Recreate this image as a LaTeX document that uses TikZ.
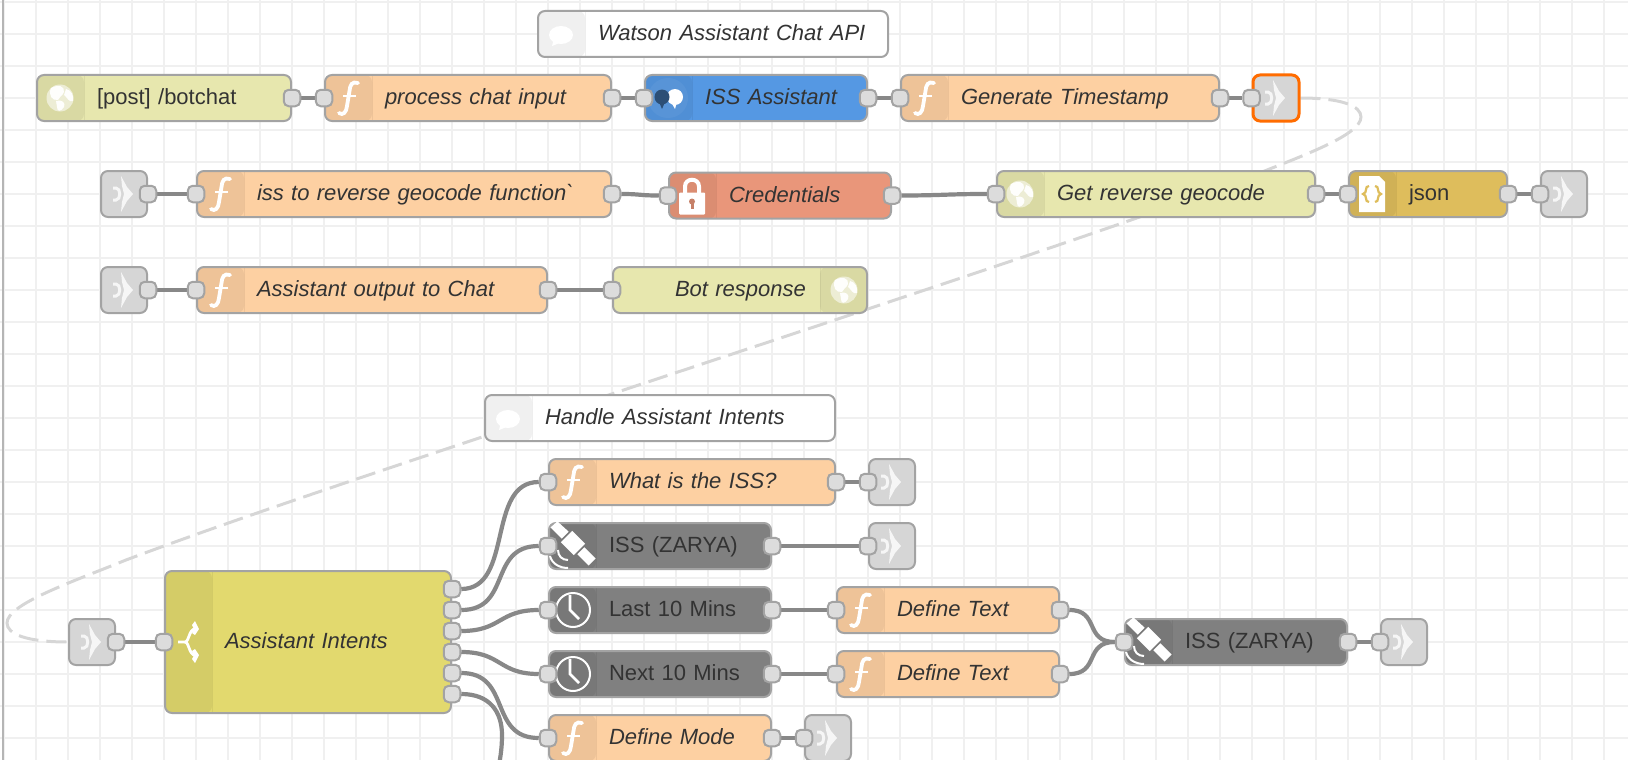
\documentclass[tikz,border=0pt]{standalone}
\usepackage{fontspec}
\setmainfont{Liberation Sans}
\usetikzlibrary{backgrounds}
\definecolor{edgecol}{HTML}{A3A3A3}
\definecolor{inkcol}{HTML}{333333}
\definecolor{gridcol}{HTML}{F0F0F0}
\definecolor{wirecol}{HTML}{888888}
\definecolor{portcol}{HTML}{DCDCDC}
\definecolor{fncol}{HTML}{FDD0A2}
\definecolor{httpcol}{HTML}{E7E7AE}
\definecolor{watsoncol}{HTML}{5598E3}
\definecolor{credcol}{HTML}{E9967A}
\definecolor{jsoncol}{HTML}{DEBD5C}
\definecolor{linkcol}{HTML}{D6D6D6}
\definecolor{satcol}{HTML}{808080}
\definecolor{switchcol}{HTML}{E2D96E}
\tikzset{
flownode/.style={draw=edgecol,line width=2pt,rounded corners=7pt,minimum height=46pt,inner xsep=0pt,inner ysep=0pt,align=left,text=inkcol,font=\fontsize{22}{26}\selectfont\itshape,text height=17pt,text depth=4pt},
wide/.style={minimum width=#1pt,text width=#1pt},
upright/.style={font=\fontsize{22}{26}\selectfont},
bandleft/.style={execute at begin node={\hspace*{60pt}},path picture={\fill[black,opacity=.06] (path picture bounding box.north west) rectangle ([xshift=47pt]path picture bounding box.south west);\draw[black,opacity=.06,line width=1pt] ([xshift=47pt]path picture bounding box.north west) -- ([xshift=47pt]path picture bounding box.south west);}},
bandright/.style={execute at begin node={\hspace*{62pt}},path picture={\fill[black,opacity=.06] (path picture bounding box.north east) rectangle ([xshift=-47pt]path picture bounding box.south east);\draw[black,opacity=.06,line width=1pt] ([xshift=-47pt]path picture bounding box.north east) -- ([xshift=-47pt]path picture bounding box.south east);}},
fnbox/.style={flownode,bandleft,fill=fncol},
httpbox/.style={flownode,bandleft,fill=httpcol},
satbox/.style={flownode,bandleft,fill=satcol,upright},
notebox/.style={flownode,bandleft,fill=white},
linkbox/.style={draw=edgecol,line width=2pt,rounded corners=7pt,minimum width=46pt,minimum height=46pt,inner sep=0pt,fill=linkcol},
port/.style={draw=edgecol,line width=2pt,rounded corners=5pt,minimum width=16.5pt,minimum height=16.5pt,inner sep=0pt,fill=portcol},
wire/.style={draw=wirecol,line width=4.2pt},
dashwire/.style={draw=linkcol,line width=3pt,dash pattern=on 20pt off 8pt},
gridline/.style={draw=gridcol,line width=2pt},
fnicon/.pic={\draw[white,line width=3.8pt,line cap=round] (10,-15) .. controls (4,-17) and (2,-13) .. (1.5,-7) -- (-1,8) .. controls (-1.5,14) and (-5,18) .. (-9,15);\draw[white,line width=2.8pt] (-5,-2) -- (8,-2);},
globeicon/.pic={\fill[white,opacity=.55] (0,0) circle[radius=13.5pt];\fill[white,opacity=.95] (-9,-10) .. controls (-2,-14) and (5,-12) .. (4,-6) .. controls (2,-1) and (-1,-2) .. (-2,2) .. controls (-8,3) and (-12,-3) .. (-9,-10) -- cycle;\fill[white,opacity=.95] (6,-9) .. controls (11,-8) and (14,-3) .. (13,3) .. controls (9,5) and (7,-1) .. (4,-3) -- cycle;\fill[white,opacity=.95] (-4,3) .. controls (2,1) and (6,5) .. (4,9) .. controls (1,14) and (-3,14) .. (-3,9) -- cycle;},
linkicon/.pic={\fill[white,opacity=.8] (9,0) -- (3,-7) -- (-3,-18) -- (-2,-8) -- (0,0) -- (-2,8) -- (-3,18) -- (3,7) -- cycle;\draw[white,opacity=.8,line width=3pt] (-11,-6) -- (-8,-6) .. controls (-3,-6) and (-3,6) .. (-8,6) -- (-11,6);},
watsonicon/.pic={\fill[white,opacity=.05] (0,0) circle[radius=20pt];\fill[white] (7,-1) circle[radius=8pt];\fill[white] (3,4) -- (7,11) -- (9,4) -- cycle;\fill[black!35!watsoncol!80!black] (-6,-1) circle[radius=7.5pt];\fill[black!35!watsoncol!80!black] (-9,4) -- (-6,11) -- (-3,4) -- cycle;},
lockicon/.pic={\draw[white,line width=4pt] (-7,0) -- (-7,-9) .. controls (-7,-18) and (7,-18) .. (7,-9) -- (7,0);\fill[white,rounded corners=1pt] (-13,-3) rectangle (13,19);\fill[credcol!85!black] (0,6) circle[radius=3pt];\fill[credcol!85!black] (-1.5,6) rectangle (1.5,13);},
jsonicon/.pic={\fill[white] (-13,-18) -- (7,-18) -- (13,-12) -- (13,18) -- (-13,18) -- cycle;\draw[jsoncol,line width=2.2pt] (-3,-8) .. controls (-8,-8) and (-4,-1) .. (-9,0) .. controls (-4,1) and (-8,8) .. (-3,8);\draw[jsoncol,line width=2.2pt] (3,-8) .. controls (8,-8) and (4,-1) .. (9,0) .. controls (4,1) and (8,8) .. (3,8);},
satelliteicon/.pic={\fill[white] (13.1,-2.3) -- (1.7,9.1) -- (-11.1,-3.7) -- (0.3,-15.1) -- cycle;\fill[white] (-14.6,-24.6) -- (-21.6,-18.6) -- (-10.3,-7.3) -- (-3.3,-14.3) -- cycle;\fill[white] (12.3,1.3) -- (5.3,8.3) -- (16.6,19.6) -- (23.6,12.6) -- cycle;\draw[white,line width=2pt] (-14,4) .. controls (-14,10) and (-10,14) .. (-4,14);\draw[white,line width=2pt] (-22,10) .. controls (-20,18) and (-12,22) .. (-4,22);},
clockicon/.pic={\draw[white,line width=2pt] (1,0) circle[radius=17pt];\draw[white,line width=2.6pt] (-2,-15) -- (-2,0) -- (7,9);},
forkicon/.pic={\draw[white,line width=2.8pt] (-10,0) -- (-3,0) .. controls (1,0) and (1,-13) .. (7,-13);\draw[white,line width=2.8pt] (-3,0) .. controls (1,0) and (1,13) .. (7,13);\fill[white] (11,-13) -- (7,-21) -- (4,-17) -- (6,-13) -- (4,-9) -- (7,-7) -- cycle;\fill[white] (11,13) -- (7,7) -- (4,9) -- (6,13) -- (4,17) -- (7,21) -- cycle;},
bubbleicon/.pic={\fill[white] (0,1) ellipse[x radius=12pt,y radius=9pt];\fill[white] (-7,4) -- (-9,12) -- (1,8) -- cycle;}
}
\begin{document}
\begin{tikzpicture}[x=1pt,y=-1pt]
\useasboundingbox (0,0) rectangle (1628,760);
\node[notebox,wide=350] (noteapi) at (713,34) {Watson Assistant Chat API};
\node[httpbox,upright,wide=254] (post) at (164,98) {[post] /botchat};
\node[fnbox,wide=286] (proc) at (468,98) {process chat input};
\node[flownode,bandleft,fill=watsoncol,wide=222] (wass) at (756,98) {ISS Assistant};
\node[fnbox,wide=318] (stamp) at (1060,98) {Generate Timestamp};
\node[linkbox,draw=orange!85!red,line width=3pt] (lkstamp) at (1276,98) {};
\node[linkbox] (lkgeo) at (124,194) {};
\node[fnbox,wide=414] (issfn) at (404,194) {iss to reverse geocode function\textasciigrave};
\node[flownode,bandleft,fill=credcol,wide=222] (cred) at (780,195.5) {Credentials};
\node[httpbox,wide=318] (geo) at (1156,194) {Get reverse geocode};
\node[flownode,bandleft,fill=jsoncol,upright,wide=158] (json) at (1428,194) {json};
\node[linkbox] (lkjson) at (1564,194) {};
\node[linkbox] (lkchat) at (124,290) {};
\node[fnbox,wide=350] (outfn) at (372,290) {Assistant output to Chat};
\node[flownode,bandright,fill=httpcol,wide=254] (botres) at (740,290) {Bot response};
\node[notebox,wide=350] (noteint) at (660,418) {Handle Assistant Intents};
\node[fnbox,wide=286] (what) at (692,482) {What is the ISS?};
\node[linkbox] (lkwhat) at (892,482) {};
\node[satbox,wide=222] (satnow) at (660,546) {ISS (ZARYA)};
\node[linkbox] (lksat) at (892,546) {};
\node[satbox,wide=222] (lastten) at (660,610) {Last 10 Mins};
\node[fnbox,wide=222] (textlast) at (948,610) {Define Text};
\node[satbox,wide=222] (nextten) at (660,674) {Next 10 Mins};
\node[fnbox,wide=222] (textnext) at (948,674) {Define Text};
\node[fnbox,wide=222] (mode) at (660,738) {Define Mode};
\node[linkbox] (lkmode) at (828,738) {};
\node[satbox,wide=222] (satpass) at (1236,642) {ISS (ZARYA)};
\node[linkbox] (lkpass) at (1404,642) {};
\node[linkbox] (lkin) at (92,642) {};
\node[flownode,bandleft,fill=switchcol,wide=286,minimum height=142pt] (intents) at (308,642) {Assistant Intents};
\foreach \n in {proc,stamp,issfn,outfn,what,textlast,textnext,mode} \pic at ([xshift=24pt]\n.west) {fnicon};
\foreach \n in {post,geo} \pic at ([xshift=24pt]\n.west) {globeicon};
\pic at ([xshift=-24pt]botres.east) {globeicon};
\foreach \n in {lkstamp,lkgeo,lkjson,lkchat,lkwhat,lksat,lkmode,lkpass,lkin} \pic at (\n) {linkicon};
\foreach \n in {satnow,satpass} \pic at ([xshift=24pt]\n.west) {satelliteicon};
\foreach \n in {lastten,nextten} \pic at ([xshift=24pt]\n.west) {clockicon};
\foreach \n in {noteapi,noteint} \pic at ([xshift=24pt]\n.west) {bubbleicon};
\pic at ([xshift=24pt]wass.west) {watsonicon};
\pic at ([xshift=24pt]cred.west) {lockicon};
\pic at ([xshift=24pt]json.west) {jsonicon};
\pic at ([xshift=24pt]intents.west) {forkicon};
\foreach \n in {proc,wass,stamp,lkstamp,issfn,cred,geo,json,lkjson,outfn,botres,what,lkwhat,satnow,lksat,lastten,textlast,nextten,textnext,mode,lkmode,satpass,lkpass,intents} \node[port] (\n-in) at (\n.west) {};
\foreach \n in {post,proc,wass,stamp,lkgeo,issfn,cred,geo,json,lkchat,outfn,what,satnow,lastten,textlast,nextten,textnext,mode,satpass,lkin} \node[port] (\n-out) at (\n.east) {};
\foreach \i/\y in {1/589,2/610,3/631,4/652,5/673,6/694} \node[port] (sw\i) at (452,\y) {};
\coordinate (turnr) at (1361,117);
\coordinate (bendr) at (1242,180);
\coordinate (midway) at (684,370);
\coordinate (bendl) at (126,560);
\coordinate (turnl) at (7,623);
\coordinate (offpage) at (497,775);
\begin{scope}[on background layer]
\foreach \x in {4,36,...,1628} \draw[gridline] (\x,0) -- (\x,760);
\foreach \y in {2,34,...,760} \draw[gridline] (0,\y) -- (1628,\y);
\draw[draw=edgecol!80,line width=2pt] (3,0) -- (3,760);
\draw[dashwire] (lkstamp.east) .. controls (1342,98) and (1361,106) .. (turnr) .. controls (1361,136) and (1296,158) .. (bendr) .. controls (1130,222) and (980,272) .. (midway) .. controls (388,468) and (238,518) .. (bendl) .. controls (72,582) and (7,604) .. (turnl) .. controls (7,634) and (26,642) .. (lkin.west);
\draw[wire] (post-out) -- (proc-in);
\draw[wire] (proc-out) -- (wass-in);
\draw[wire] (wass-out) -- (stamp-in);
\draw[wire] (stamp-out) -- (lkstamp-in);
\draw[wire] (lkgeo-out) -- (issfn-in);
\draw[wire] (issfn-out) .. controls +(30,0) and +(-30,0) .. (cred-in);
\draw[wire] (cred-out) .. controls +(50,0) and +(-50,0) .. (geo-in);
\draw[wire] (geo-out) -- (json-in);
\draw[wire] (json-out) -- (lkjson-in);
\draw[wire] (lkchat-out) -- (outfn-in);
\draw[wire] (outfn-out) -- (botres-in);
\draw[wire] (what-out) -- (lkwhat-in);
\draw[wire] (satnow-out) -- (lksat-in);
\draw[wire] (lastten-out) -- (textlast-in);
\draw[wire] (nextten-out) -- (textnext-in);
\draw[wire] (mode-out) -- (lkmode-in);
\draw[wire] (satpass-out) -- (lkpass-in);
\draw[wire] (lkin-out) -- (intents-in);
\draw[wire] (textlast-out) .. controls +(40,0) and +(-40,0) .. (satpass-in);
\draw[wire] (textnext-out) .. controls +(40,0) and +(-40,0) .. (satpass-in);
\draw[wire] (sw1) .. controls +(62,0) and +(-62,0) .. (what-in);
\draw[wire] (sw2) .. controls +(60,0) and +(-60,0) .. (satnow-in);
\draw[wire] (sw3) .. controls +(50,0) and +(-50,0) .. (lastten-in);
\draw[wire] (sw4) .. controls +(50,0) and +(-50,0) .. (nextten-in);
\draw[wire] (sw5) .. controls +(60,0) and +(-60,0) .. (mode-in);
\draw[wire] (sw6) .. controls (490,694) and (502,712) .. (502,735) .. controls (502,750) and (500,760) .. (offpage);
\end{scope}
\end{tikzpicture}
\end{document}
